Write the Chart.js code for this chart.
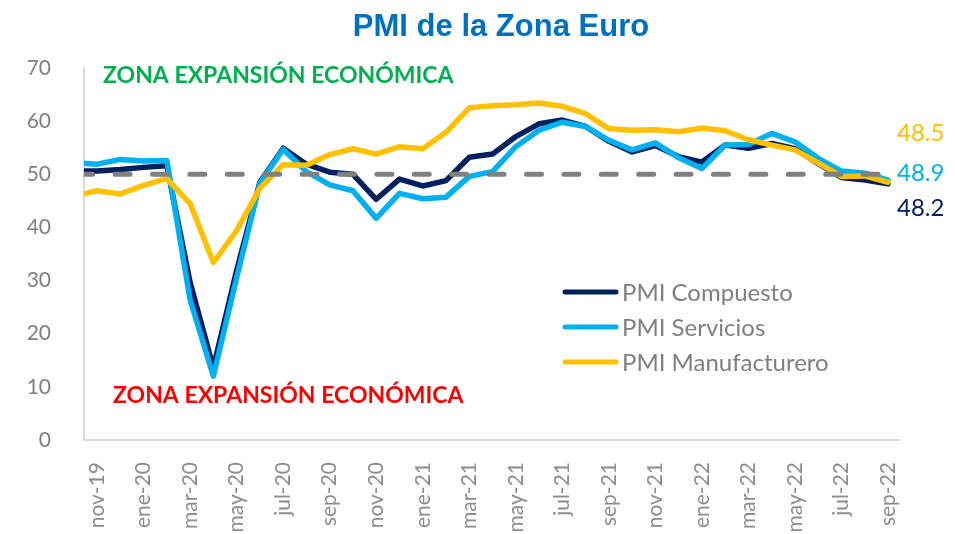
<!DOCTYPE html>
<html><head><meta charset="utf-8">
<script src="https://cdn.jsdelivr.net/npm/chart.js@4.4.0/dist/chart.umd.min.js"></script>
<style>html,body{margin:0;padding:0;background:#fff;}#wrap{width:955px;height:534px;position:relative;}</style>
</head><body><div id="wrap"><canvas id="c" width="955" height="534"></canvas></div>
<script>
const categories = ['oct-19','nov-19','dic-19','ene-20','feb-20','mar-20','abr-20','may-20','jun-20','jul-20','ago-20','sep-20','oct-20','nov-20','dic-20','ene-21','feb-21','mar-21','abr-21','may-21','jun-21','jul-21','ago-21','sep-21','oct-21','nov-21','dic-21','ene-22','feb-22','mar-22','abr-22','may-22','jun-22','jul-22','ago-22','sep-22'];
const pmiCompuesto = [50.6,50.6,50.9,51.3,51.6,29.7,13.6,31.9,48.5,54.9,51.9,50.4,50.0,45.3,49.1,47.8,48.8,53.2,53.8,57.1,59.5,60.2,59.0,56.2,54.2,55.4,53.3,52.3,55.5,54.9,55.8,54.8,52.0,49.4,48.9,48.2];
const pmiServicios = [52.2,51.9,52.8,52.5,52.6,26.4,12.0,30.5,48.3,54.7,50.5,48.0,46.9,41.7,46.4,45.4,45.7,49.6,50.5,55.2,58.3,59.8,59.0,56.4,54.6,55.9,53.1,51.1,55.5,55.6,57.7,56.1,53.0,50.6,50.2,48.9];
const pmiManufacturero = [45.9,46.9,46.3,47.9,49.2,44.5,33.4,39.4,47.4,51.8,51.7,53.7,54.8,53.8,55.2,54.8,57.9,62.5,62.9,63.1,63.4,62.8,61.4,58.6,58.3,58.4,58.0,58.7,58.2,56.5,55.5,54.6,52.1,49.6,49.7,48.5];
const threshold = 50;
const yTickValues = [0,10,20,30,40,50,60,70];
const xTickLabels = ['nov-19','ene-20','mar-20','may-20','jul-20','sep-20','nov-20','ene-21','mar-21','may-21','jul-21','sep-21','nov-21','ene-22','mar-22','may-22','jul-22','sep-22'];
const titleText = 'PMI de la Zona Euro';
const zoneTop = 'ZONA EXPANSIÓN ECONÓMICA';
const zoneBottom = 'ZONA EXPANSIÓN ECONÓMICA';

const FONT = 'Lato, "Open Sans", sans-serif';
const toPts = arr => arr.map((v, i) => ({x: i, y: v}));
const series = [
  {label: 'PMI Compuesto', data: pmiCompuesto, color: '#002060'},
  {label: 'PMI Servicios', data: pmiServicios, color: '#00B0F0'},
  {label: 'PMI Manufacturero', data: pmiManufacturero, color: '#FFC000'}
];
const clipLeft = {left: 0, top: false, right: false, bottom: false};
const datasets = [
  {label: 'umbral', data: toPts(categories.map(() => threshold)), borderColor: '#808080', borderWidth: 5,
   borderDash: [15, 22.4], borderDashOffset: 33.5, borderCapStyle: 'round', pointRadius: 0, order: 0, clip: clipLeft}
].concat(series.map((s, k) => ({
  label: s.label, data: toPts(s.data), borderColor: s.color, backgroundColor: s.color, borderWidth: 5.5,
  borderCapStyle: 'round', borderJoinStyle: 'round', pointRadius: 0, tension: 0, order: 3 - k, clip: clipLeft
})));

const overlay = {
  id: 'overlay',
  afterDraw(chart) {
    const ctx = chart.ctx;
    ctx.save();
    ctx.fillStyle = '#0070C0';
    ctx.font = 'bold 31px "Liberation Sans", Arial, sans-serif';
    ctx.textAlign = 'center'; ctx.textBaseline = 'middle';
    ctx.fillText(titleText, 501, 27);
    ctx.textAlign = 'left';
    ctx.font = 'bold 23px ' + FONT;
    ctx.fillStyle = '#00B050';
    ctx.fillText(zoneTop, 103, 76);
    ctx.fillStyle = '#FF0000';
    ctx.fillText(zoneBottom, 113, 396);
    const ly = [292, 327, 362];
    series.forEach((s, k) => {
      ctx.strokeStyle = s.color; ctx.lineWidth = 5; ctx.lineCap = 'round';
      ctx.beginPath(); ctx.moveTo(565, ly[k]); ctx.lineTo(616, ly[k]); ctx.stroke();
      ctx.fillStyle = '#7F7F7F'; ctx.font = '24px ' + FONT;
      ctx.textAlign = 'left'; ctx.textBaseline = 'middle';
      ctx.fillText(s.label, 622, ly[k] + 1);
    });
    const ey = {'PMI Manufacturero': 133, 'PMI Servicios': 173, 'PMI Compuesto': 208};
    ctx.font = '24px ' + FONT; ctx.textAlign = 'left';
    series.forEach(s => {
      ctx.fillStyle = s.color;
      ctx.fillText(s.data[s.data.length - 1].toFixed(1), 897, ey[s.label]);
    });
    ctx.restore();
  }
};

new Chart(document.getElementById('c'), {
  type: 'line',
  data: {datasets},
  options: {
    responsive: false, animation: false, maintainAspectRatio: false,
    layout: {padding: {top: 68, right: 56, left: 0, bottom: 0}},
    plugins: {legend: {display: false}, tooltip: {enabled: false}, title: {display: false}},
    scales: {
      x: {
        type: 'linear', min: 0.44, max: 35.47,
        afterBuildTicks: sc => { sc.ticks = xTickLabels.map(l => ({value: categories.indexOf(l)})); },
        afterFit: sc => { sc.height = 94; },
        grid: {display: false},
        border: {display: true, color: '#D9D9D9', width: 2},
        ticks: {
          autoSkip: false, minRotation: 90, maxRotation: 90, padding: 14,
          color: '#8C8C8C', font: {family: FONT, size: 21},
          callback: v => categories[v]
        }
      },
      y: {
        min: 0, max: 70,
        afterBuildTicks: sc => { sc.ticks = yTickValues.map(v => ({value: v})); },
        afterFit: sc => { sc.width = 84; },
        grid: {display: false},
        border: {display: true, color: '#D9D9D9', width: 2},
        ticks: {padding: 25, color: '#7F7F7F', font: {family: FONT, size: 21}}
      }
    }
  },
  plugins: [overlay]
});
</script></body></html>
